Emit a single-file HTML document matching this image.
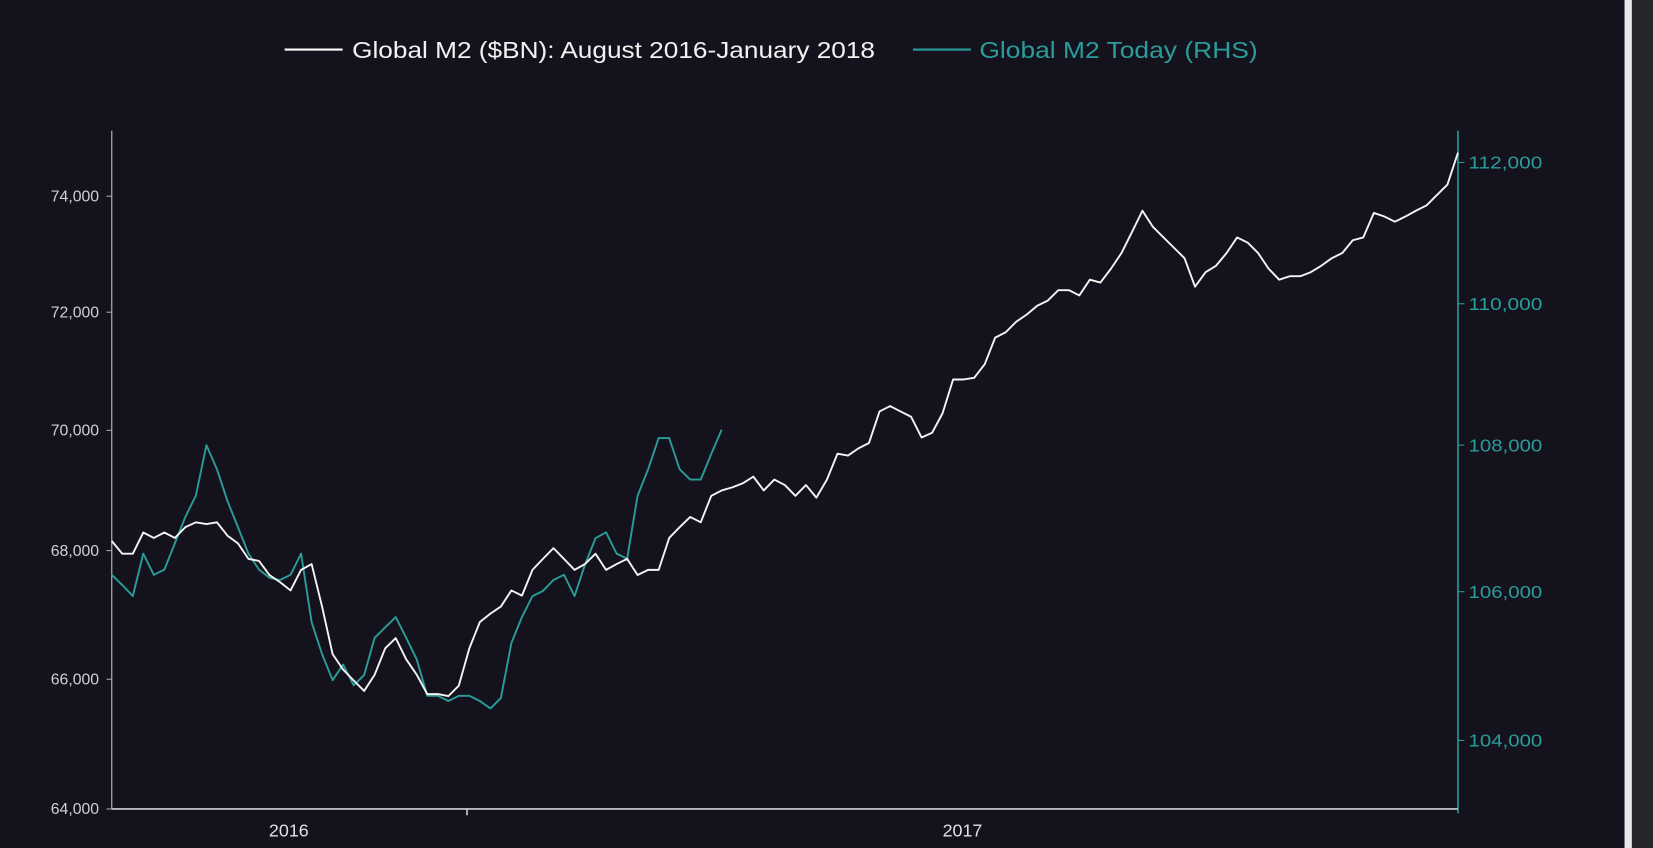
<!DOCTYPE html>
<html><head><meta charset="utf-8"><style>
html,body{margin:0;padding:0;background:#14131d;overflow:hidden}
svg{display:block}
text{font-family:"Liberation Sans",sans-serif}
</style></head><body>
<svg id="chart" width="1653" height="848" viewBox="0 0 1568 804" preserveAspectRatio="none" xmlns="http://www.w3.org/2000/svg">
<rect x="0" y="0" width="1568" height="804" fill="#14131d"/>
<rect x="1541" y="0" width="7" height="804" fill="#e8e8ec"/>
<rect x="1548" y="0" width="20" height="804" fill="#26252c"/>
<g>
  <line x1="270" y1="47" x2="325" y2="47" stroke="#ffffff" stroke-width="2"/>
  <text x="334" y="55" font-size="22" fill="#f2f2f2" textLength="496" lengthAdjust="spacingAndGlyphs">Global M2 ($BN): August 2016-January 2018</text>
  <line x1="866" y1="47" x2="921" y2="47" stroke="#2a9d9a" stroke-width="2"/>
  <text x="929" y="55" font-size="22" fill="#2a9d9a" textLength="264" lengthAdjust="spacingAndGlyphs">Global M2 Today (RHS)</text>
</g>
<g id="axes"></g>
<g id="series"></g>
</svg>
<script>
const leftTicks=[64000,66000,68000,70000,72000,74000];
const leftTickPx=[767,644,522,408,296,186];
const rightTicks=[104000,106000,108000,110000,112000];
const rightTickPx=[702,561,422,288,154];
const xLabels=["2016","2017"];
const xLabelPx=[274,913];
const whiteValues=[68160,67950,67950,68300,68210,68300,68210,68390,68470,68440,68470,68250,68120,67870,67840,67620,67510,67380,67700,67790,67130,66390,66150,65980,65820,66070,66480,66640,66310,66070,65770,65770,65740,65900,66480,66890,67020,67130,67380,67300,67700,67870,68040,67870,67700,67790,67950,67700,67790,67870,67620,67700,67700,68210,68390,68560,68470,68910,69000,69050,69120,69230,69000,69180,69090,68910,69090,68880,69180,69610,69580,69700,69790,70320,70410,70320,70230,69880,69960,70290,70860,70860,70890,71120,71570,71660,71840,71960,72110,72200,72380,72380,72290,72560,72510,72750,73020,73380,73750,73470,73290,73110,72930,72440,72690,72800,73020,73290,73200,73020,72750,72560,72620,72620,72690,72800,72930,73020,73240,73290,73710,73650,73560,73650,73750,73840,74020,74200,74750];
const tealValues=[106230,106090,105940,106520,106230,106300,106660,107020,107310,108000,107670,107240,106880,106520,106300,106190,106160,106230,106520,105590,105160,104810,105020,104740,104880,105380,105520,105660,105380,105090,104600,104600,104530,104600,104600,104530,104430,104570,105310,105660,105940,106010,106160,106230,105940,106370,106730,106810,106520,106450,107310,107670,108100,108100,107670,107530,107530,107880,108220];

const X0=106,X1=1383,YB=767,YT=124;
function interp(v,ticks,px){
  let i=0;
  if(v<=ticks[0]) i=0; else if(v>=ticks[ticks.length-1]) i=ticks.length-2;
  else {while(v>ticks[i+1]) i++;}
  const t=(v-ticks[i])/(ticks[i+1]-ticks[i]);
  return px[i]+t*(px[i+1]-px[i]);
}
function yLeft(v){return interp(v,leftTicks,leftTickPx);}
function yRight(v){return interp(v,rightTicks,rightTickPx);}
function xScale(i){return X0+i*(X1-X0)/(whiteValues.length-1);}
const NS="http://www.w3.org/2000/svg";
function mk(tag,attrs,parent){const e=document.createElementNS(NS,tag);for(const k in attrs)e.setAttribute(k,attrs[k]);parent.appendChild(e);return e;}
const axes=document.getElementById('axes');
const series=document.getElementById('series');

let e=mk('line',{x1:X0,y1:YT,x2:X0,y2:YB,stroke:'#a9a9b0','stroke-width':1.2},axes);


e=mk('line',{x1:X1,y1:YT,x2:X1,y2:YB+4,stroke:'#2a9d9a','stroke-width':1.5},axes);


e=mk('line',{x1:X0,y1:YB,x2:X1,y2:YB,stroke:'#b8b8be','stroke-width':1.8},axes);


e=mk('line',{x1:443,y1:YB,x2:443,y2:YB+6,stroke:'#cfcfd4','stroke-width':1.5},axes);



leftTicks.forEach((v,i)=>{
  const y=yLeft(v);
  const t=mk('line',{x1:X0-5,y1:y,x2:X0,y2:y,stroke:'#a9a9b0','stroke-width':1},axes);
  
  
  const l=mk('text',{x:X0-12,y:y+5,'font-size':15,fill:'#d0d0d6','text-anchor':'end'},axes);
  l.textContent=v.toLocaleString('en-US');
  
  
});
rightTicks.forEach((v,i)=>{
  const y=yRight(v);
  const t=mk('line',{x1:X1,y1:y,x2:X1+6,y2:y,stroke:'#2a9d9a','stroke-width':1},axes);
  
  
  const l=mk('text',{x:X1+10,y:y+6,'font-size':17,fill:'#2a9d9a',textLength:70,lengthAdjust:'spacingAndGlyphs'},axes);
  l.textContent=v.toLocaleString('en-US');
  
  
});
xLabels.forEach((s,i)=>{
  const l=mk('text',{x:xLabelPx[i],y:793,'font-size':17,fill:'#e0e0e4','text-anchor':'middle'},axes);
  l.textContent=s;
  
  
});

let d=tealValues.map((v,i)=>(i?'L':'M')+xScale(i).toFixed(1)+','+yRight(v).toFixed(1)).join(' ');
e=mk('path',{d:d,fill:'none',stroke:'#2a9d9a','stroke-width':1.8,'stroke-linejoin':'round'},series);


d=whiteValues.map((v,i)=>(i?'L':'M')+xScale(i).toFixed(1)+','+yLeft(v).toFixed(1)).join(' ');
e=mk('path',{d:d,fill:'none',stroke:'#f4f4f6','stroke-width':1.8,'stroke-linejoin':'round'},series);


</script>
</body></html>
